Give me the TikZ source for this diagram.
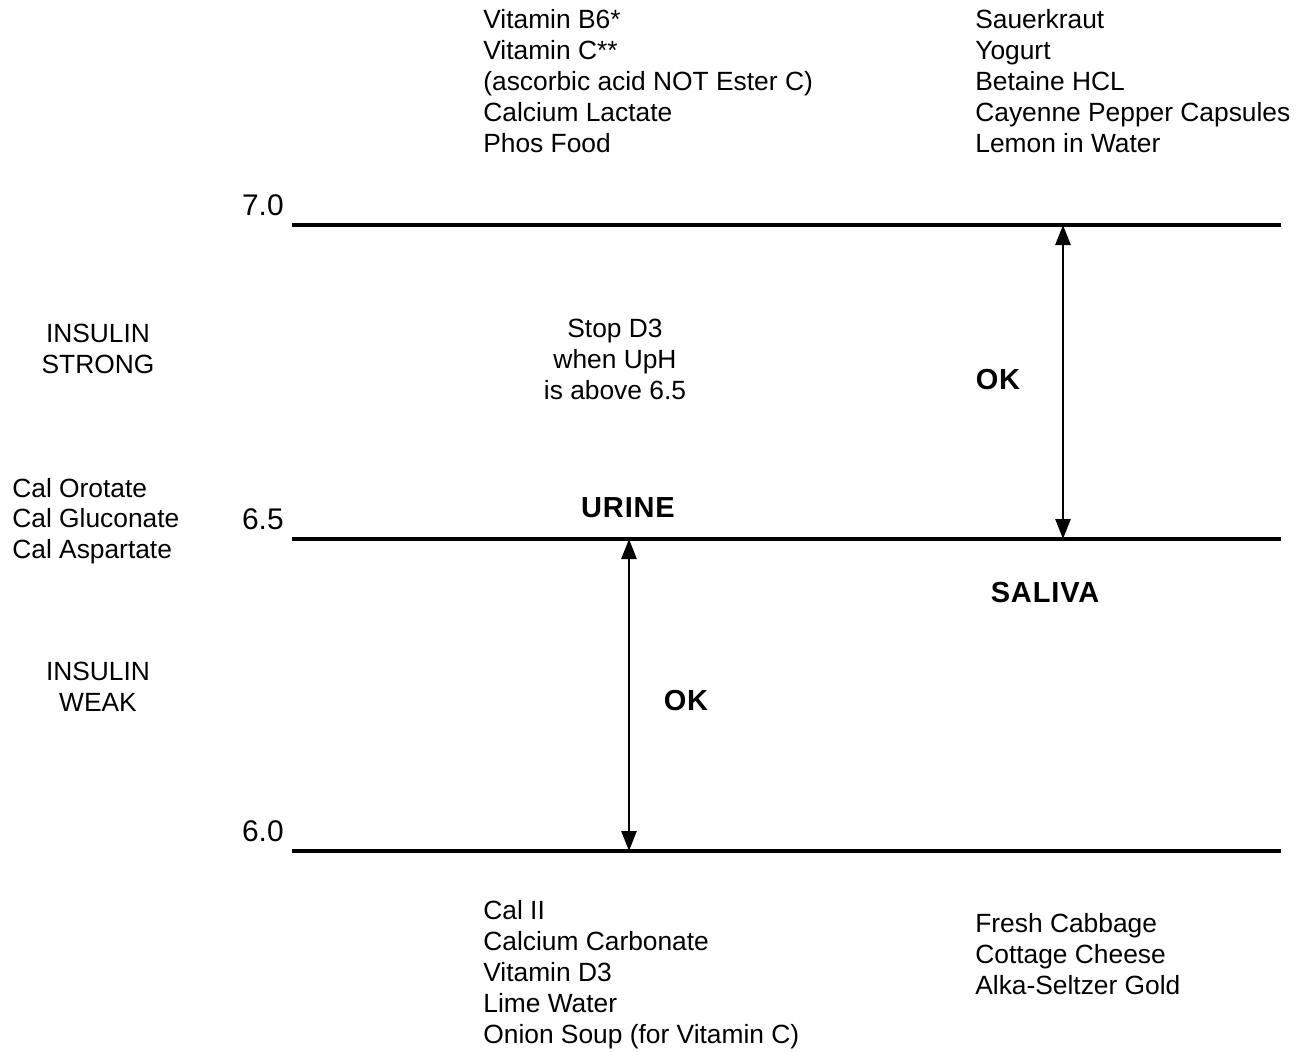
\documentclass[tikz,border=0pt]{standalone}
\usepackage{fontspec}
\setmainfont{Liberation Sans}
\newfontfamily\spacedsans[LetterSpace=3]{Liberation Sans}
\usetikzlibrary{arrows.meta}

\begin{document}
\begin{tikzpicture}[
    x=0.02cm, y=-0.02cm,
    txt/.style={inner sep=0pt, align=left, anchor=base west, font=\fontsize{15}{17.6}\selectfont},
    ctr/.style={txt, align=center, anchor=base},
    num/.style={inner sep=0pt, anchor=base east, font=\fontsize{17}{20}\selectfont},
    hdr/.style={inner sep=0pt, anchor=base, font=\spacedsans\fontsize{16.5}{19}\selectfont\bfseries},
    level/.style={line width=1.9pt},
    arr/.style={{Triangle[length=0.4cm, width=0.3cm]}-{Triangle[length=0.4cm, width=0.3cm]}, line width=1.5pt}
]
\useasboundingbox (0,0) rectangle (1303,1052);

% pH levels
\coordinate (a70) at (292,225);  \coordinate (b70) at (1281,225);
\coordinate (a65) at (292,539);  \coordinate (b65) at (1281,539);
\coordinate (a60) at (292,851);  \coordinate (b60) at (1281,851);
\draw[level] (a70) -- (b70);
\draw[level] (a65) -- (b65);
\draw[level] (a60) -- (b60);

\node[num] (l70) at (284,215) {7.0};
\node[num] (l65) at (284,529) {6.5};
\node[num] (l60) at (284,841) {6.0};

% acid side (base = last line)
\node[txt] (acidl) at (483,152) {Vitamin B6*\\Vitamin C**\\(ascorbic acid NOT Ester C)\\Calcium Lactate\\Phos Food};
\node[txt] (acidr) at (975,152) {Sauerkraut\\Yogurt\\Betaine HCL\\Cayenne Pepper Capsules\\Lemon in Water};

% alkaline side
\node[txt] (alkl) at (483,1043) {Cal II\\Calcium Carbonate\\Vitamin D3\\Lime Water\\Onion Soup (for Vitamin C)};
\node[txt] (alkr) at (975,994) {Fresh Cabbage\\Cottage Cheese\\Alka-Seltzer Gold};

% left column
\node[ctr] (strong) at (98,373) {INSULIN\\STRONG};
\node[txt, font=\fontsize{15}{17.1}\selectfont] (calx) at (12,558) {Cal Orotate\\Cal Gluconate\\Cal Aspartate};
\node[ctr] (weak) at (98,711) {INSULIN\\WEAK};

\node[ctr] (stop) at (615,399) {Stop D3\\when UpH\\is above 6.5};

% ranges
\coordinate (s70) at (1063,225);  \coordinate (s65) at (1063,539);
\coordinate (u65) at (629,539);   \coordinate (u60) at (629,851);
\draw[arr] (s70) -- (s65);
\draw[arr] (u65) -- (u60);

\node[hdr] (okhi) at (998,389) {OK};
\node[hdr] (urine) at (628,517) {URINE};
\node[hdr] (saliva) at (1045,602) {SALIVA};
\node[hdr] (oklo) at (686,710) {OK};

\end{tikzpicture}
\end{document}
